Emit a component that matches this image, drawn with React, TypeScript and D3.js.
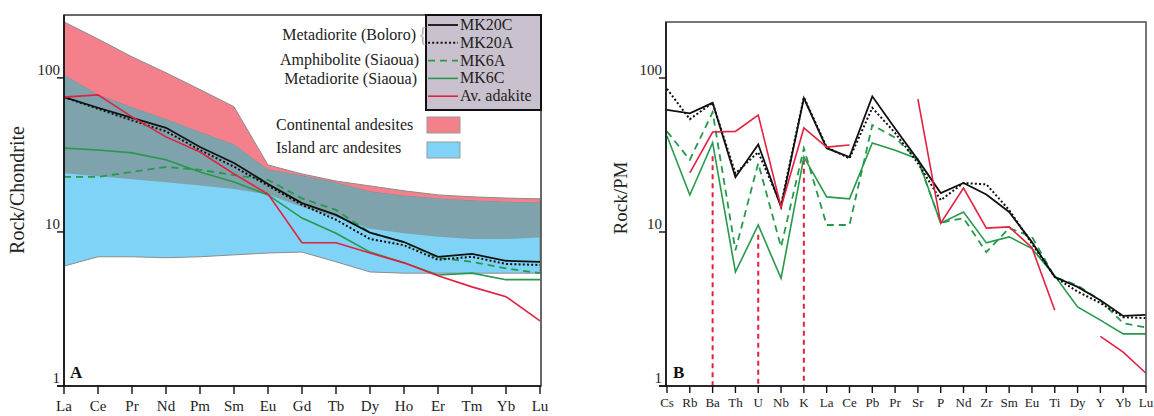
import React from "react";
import * as d3 from "d3";

// ---------- Data: panel A (REE, chondrite-normalised) ----------
const reeElements = ["La","Ce","Pr","Nd","Pm","Sm","Eu","Gd","Tb","Dy","Ho","Er","Tm","Yb","Lu"];
const contAndesiteHigh = [231,179,137,108,84,65,27.2,23.8,21.4,19.9,18.5,17.4,16.9,16.6,16.4];
const contAndesiteLow = [24,23,22,21,20,19,17.5,14.5,12.5,10.5,9.8,9.3,9.0,9.0,9.2];
const islandArcHigh = [104,77.5,64,53.6,44.3,36.7,25.3,23.1,20.8,18.2,17.1,16.4,15.9,15.6,15.4];
const islandArcLow = [6.0,6.9,6.9,6.8,6.9,7.1,7.3,7.4,6.4,5.5,5.4,5.4,5.4,5.4,5.4];
const mk20cREE = [75,64,55,47.4,35.6,28,20.5,15.4,12.9,9.9,8.6,6.9,7.2,6.5,6.4];
const mk20aREE = [75,63,53,45,34,26.5,20,15,12,9.0,8.2,6.6,6.9,6.2,6.1];
const mk6aREE = [22.8,22.8,24.5,26.4,25.3,23.4,21.8,16.5,13.9,9.9,8.6,6.8,6.4,5.8,5.4];
const mk6cREE = [35,34,32.6,29.4,24.5,21.1,17.4,12.3,9.8,7.4,6.3,5.25,5.4,4.9,4.9];
const adakiteREE = [75,77.6,55.8,41.4,33,23.8,17.6,8.5,8.5,7.3,6.3,5.2,4.4,3.8,2.65];

// ---------- Data: panel B (primitive mantle normalised) ----------
const spiderElements = ["Cs","Rb","Ba","Th","U","Nb","K","La","Ce","Pb","Pr","Sr","P","Nd","Zr","Sm","Eu","Ti","Dy","Y","Yb","Lu"];
const mk20cPM = [62,59,69,22.7,37,14.5,74,35,30.7,76,47,29.4,17.9,20.8,17.5,13.5,8.6,5.1,4.4,3.6,2.85,2.9];
const mk20aPM = [85,54,69,24,33,15,75,35.6,30,64,44,28,16.1,20.8,20.4,13.9,8.4,5.1,4.1,3.46,2.8,2.76];
const mk6aPM = [45,29.4,60,7.6,28,8.0,35,11.1,11.1,49.5,41,29.4,11.5,12.3,7.4,10.6,9.3,5.1,4.5,3.6,2.56,2.4];
const mk6cPM = [42,17.4,38,5.5,11.1,5.0,30.7,16.9,16.4,37.8,34,29.8,11.4,13.5,8.5,9.3,7.8,5.2,3.26,2.68,2.18,2.18];
const adakitePM: (number | null)[] = [null,24.2,44.6,45,57.5,14.5,47.4,35.6,36.7,null,null,73,11.4,19.3,10.6,10.8,7.9,3.1,null,2.1,1.66,1.21];
const adakiteDropElements = ["Ba","U","K"];
const adakiteDropTops = [31,9.6,29.4];

const yTicks = [1,10,100];
const legendNames = ["MK20C","MK20A","MK6A","MK6C","Av. adakite"];

const FONT = "Liberation Serif, Times New Roman, DejaVu Serif, serif";
const BLACK = "#111";
const GREEN = "#26994a";
const RED = "#e2203f";
const PINK = "#f4808c";
const BLUE = "#7fd3f6";
const GREY = "#7fa3ac";

export default function App() {
  const xA = d3.scalePoint<string>().domain(reeElements).range([64, 540]);
  const yA = d3.scaleLog().domain([1, 256]).range([386, 15]);
  const xB = d3.scalePoint<string>().domain(spiderElements).range([667, 1146]);
  const yB = d3.scaleLog().domain([1, 231]).range([386, 22]);

  const bandArea = (low: number[], high: number[]) =>
    d3.area<number>()
      .x((_, i) => xA(reeElements[i]) as number)
      .y0((_, i) => yA(low[i]))
      .y1((d) => yA(d))(high) as string;

  const overlapLow = reeElements.map((_, i) => Math.max(contAndesiteLow[i], islandArcLow[i]));
  const overlapHigh = reeElements.map((_, i) => Math.min(contAndesiteHigh[i], islandArcHigh[i]));

  const lineA = (vals: number[]) =>
    d3.line<number>().x((_, i) => xA(reeElements[i]) as number).y((d) => yA(d))(vals) as string;
  const lineB = (vals: (number | null)[]) =>
    d3.line<number | null>()
      .defined((d) => d != null)
      .x((_, i) => xB(spiderElements[i]) as number)
      .y((d) => yB(d as number))(vals) as string;

  const seriesStyles = [
    { stroke: BLACK, dash: undefined, w: 1.8 },
    { stroke: BLACK, dash: "2,2.2", w: 2 },
    { stroke: GREEN, dash: "7,5", w: 1.8 },
    { stroke: GREEN, dash: undefined, w: 1.6 },
    { stroke: RED, dash: undefined, w: 1.6 },
  ];
  const reeSeries = [mk20cREE, mk20aREE, mk6aREE, mk6cREE, adakiteREE];
  const pmSeries = [mk20cPM, mk20aPM, mk6aPM, mk6cPM, adakitePM];
  const drawOrder = [2, 3, 1, 0, 4];
  const tf = { fontFamily: FONT };

  return (
    <svg width={1154} height={416} style={{ position: "absolute", left: 0, top: 0, background: "#fff", fontFamily: FONT }}>
      <defs>
        <clipPath id="clipA"><rect x={64} y={15} width={477} height={371} /></clipPath>
        <clipPath id="clipB"><rect x={666} y={22} width={480} height={364} /></clipPath>
      </defs>

      {/* ================= Panel A ================= */}
      <g clipPath="url(#clipA)">
        <path d={bandArea(contAndesiteLow, contAndesiteHigh)} fill={PINK} stroke="#8c8c8c" strokeWidth={1} />
        <path d={bandArea(islandArcLow, islandArcHigh)} fill={BLUE} stroke="#8c8c8c" strokeWidth={1} />
        <path d={bandArea(overlapLow, overlapHigh)} fill={GREY} stroke="none" />
        {drawOrder.map((k) => (
          <path key={k} d={lineA(reeSeries[k])} fill="none" stroke={seriesStyles[k].stroke}
            strokeWidth={seriesStyles[k].w} strokeDasharray={seriesStyles[k].dash} />
        ))}
      </g>
      <rect x={64} y={15} width={477} height={371} fill="none" stroke="#444" strokeWidth={1.6} />
      <line x1={64} y1={15} x2={64} y2={386} stroke={BLACK} strokeWidth={1.6} />
      <line x1={57} y1={386} x2={541} y2={386} stroke={BLACK} strokeWidth={1.6} />
      {yTicks.map((t) => (
        <g key={t}>
          <line x1={57} x2={64} y1={yA(t)} y2={yA(t)} stroke={BLACK} strokeWidth={1.4} />
          <text style={tf} x={60} y={yA(t) - 3} textAnchor="end" fontSize={15} fill="#222">{t}</text>
        </g>
      ))}
      {reeElements.map((e) => (
        <g key={e}>
          <line x1={xA(e)} x2={xA(e)} y1={386} y2={394} stroke={BLACK} strokeWidth={1.4} />
          <text style={tf} x={xA(e)} y={411} textAnchor="middle" fontSize={15} fill="#222">{e}</text>
        </g>
      ))}
      <text style={tf} transform="translate(24,190) rotate(-90)" textAnchor="middle" fontSize={20} fill="#222">Rock/Chondrite</text>
      <text style={tf} x={70} y={378} fontSize={17} fontWeight="bold" fill="#111">A</text>

      {/* Legend A */}
      <rect x={426} y={15} width={115} height={95} fill="#c9c1cd" stroke={BLACK} strokeWidth={2} />
      {legendNames.map((n, i) => {
        const yy = 25 + i * 17.8;
        const s = seriesStyles[i];
        return (
          <g key={n}>
            <line x1={428} x2={458} y1={yy} y2={yy} stroke={s.stroke} strokeWidth={s.w} strokeDasharray={s.dash} />
            <text style={tf} x={460} y={yy + 5} fontSize={16} fill="#222">{n}</text>
          </g>
        );
      })}
      <text style={tf} x={416} y={40} textAnchor="end" fontSize={16} fill="#222">Metadiorite (Boloro)</text>
      <text style={tf} x={418} y={41} fontSize={20} fill="#b0b0b0">{"{"}</text>
      <text style={tf} x={419} y={65} textAnchor="end" fontSize={16} fill="#222">Amphibolite (Siaoua)</text>
      <text style={tf} x={417} y={84} textAnchor="end" fontSize={16} fill="#222">Metadiorite (Siaoua)</text>
      <text style={tf} x={276} y={130} fontSize={16} fill="#222">Continental andesites</text>
      <rect x={427} y={117} width={33} height={16} fill={PINK} stroke="#999" strokeWidth={1} />
      <text style={tf} x={276} y={153} fontSize={16} fill="#222">Island arc andesites</text>
      <rect x={427} y={142} width={33} height={16} fill={BLUE} stroke="#999" strokeWidth={1} />

      {/* ================= Panel B ================= */}
      <g clipPath="url(#clipB)">
        {adakiteDropElements.map((e, i) => (
          <line key={e} x1={xB(e)} x2={xB(e)} y1={yB(adakiteDropTops[i])} y2={yB(1)}
            stroke={RED} strokeWidth={2} strokeDasharray="5,4" />
        ))}
        {drawOrder.map((k) => (
          <path key={k} d={lineB(pmSeries[k])} fill="none" stroke={seriesStyles[k].stroke}
            strokeWidth={seriesStyles[k].w} strokeDasharray={seriesStyles[k].dash} />
        ))}
      </g>
      <rect x={666} y={22} width={480} height={364} fill="none" stroke="#555" strokeWidth={1.6} />
      <line x1={666} y1={22} x2={666} y2={386} stroke={BLACK} strokeWidth={1.6} />
      <line x1={659} y1={386} x2={1146} y2={386} stroke={BLACK} strokeWidth={1.6} />
      {yTicks.map((t) => (
        <g key={t}>
          <line x1={659} x2={666} y1={yB(t)} y2={yB(t)} stroke={BLACK} strokeWidth={1.4} />
          <text style={tf} x={662} y={yB(t) - 3} textAnchor="end" fontSize={15} fill="#222">{t}</text>
        </g>
      ))}
      {spiderElements.map((e) => (
        <g key={e}>
          <line x1={xB(e)} x2={xB(e)} y1={386} y2={393} stroke={BLACK} strokeWidth={1.4} />
          <text style={tf} x={xB(e)} y={407} textAnchor="middle" fontSize={13} fill="#222">{e}</text>
        </g>
      ))}
      <text style={tf} transform="translate(627,198) rotate(-90)" textAnchor="middle" fontSize={19} fill="#222">Rock/PM</text>
      <text style={tf} x={673} y={378} fontSize={17} fontWeight="bold" fill="#111">B</text>
    </svg>
  );
}
